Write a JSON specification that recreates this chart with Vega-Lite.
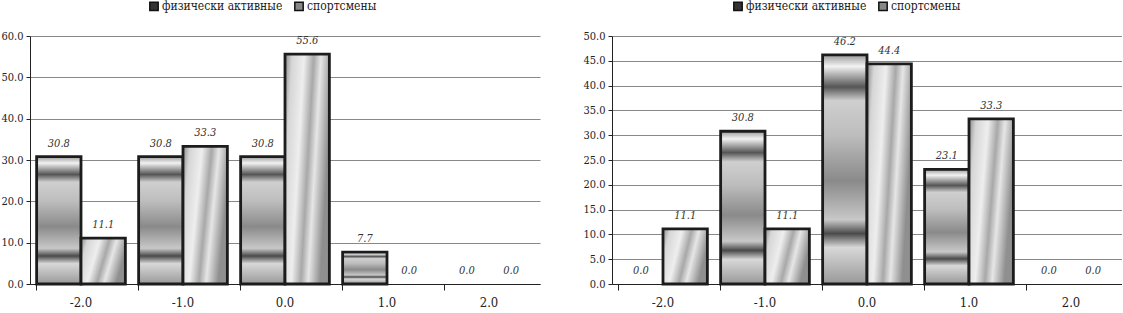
{
  "$schema": "https://vega.github.io/schema/vega-lite/v6.json",
  "padding": {"left": 0, "top": 0, "right": 0, "bottom": 0},
  "autosize": {"type": "pad"},
  "background": "white",
  "datasets": {
    "left": [
      {"cat": "-2.0", "series": "физически активные", "v": 30.8},
      {"cat": "-2.0", "series": "спортсмены", "v": 11.1},
      {"cat": "-1.0", "series": "физически активные", "v": 30.8},
      {"cat": "-1.0", "series": "спортсмены", "v": 33.3},
      {"cat": "0.0", "series": "физически активные", "v": 30.8},
      {"cat": "0.0", "series": "спортсмены", "v": 55.6},
      {"cat": "1.0", "series": "физически активные", "v": 7.7},
      {"cat": "1.0", "series": "спортсмены", "v": 0.0},
      {"cat": "2.0", "series": "физически активные", "v": 0.0},
      {"cat": "2.0", "series": "спортсмены", "v": 0.0}
    ],
    "right": [
      {"cat": "-2.0", "series": "физически активные", "v": 0.0},
      {"cat": "-2.0", "series": "спортсмены", "v": 11.1},
      {"cat": "-1.0", "series": "физически активные", "v": 30.8},
      {"cat": "-1.0", "series": "спортсмены", "v": 11.1},
      {"cat": "0.0", "series": "физически активные", "v": 46.2},
      {"cat": "0.0", "series": "спортсмены", "v": 44.4},
      {"cat": "1.0", "series": "физически активные", "v": 23.1},
      {"cat": "1.0", "series": "спортсмены", "v": 33.3},
      {"cat": "2.0", "series": "физически активные", "v": 0.0},
      {"cat": "2.0", "series": "спортсмены", "v": 0.0}
    ]
  },
  "config": {
    "font": "DejaVu Serif Condensed",
    "view": {"stroke": null},
    "axisX": {"labelFont": "DejaVu Serif Condensed"},
    "axisY": {"labelFont": "DejaVu Serif Condensed"},
    "axis": {"labelColor": "#222", "domainColor": "#222", "tickColor": "#222", "title": null},
    "legend": {"labelFont": "DejaVu Serif Condensed", "labelFontSize": 12, "labelColor": "#222"},
    "text": {"font": "DejaVu Serif Condensed"}
  },
  "spacing": 42,
  "resolve": {"scale": {"color": "independent", "y": "independent"}, "legend": {"color": "independent"}},
  "hconcat": [
    {
      "width": 510,
      "height": 248,
      "data": {"name": "left"},
      "encoding": {
        "x": {"field": "cat", "type": "nominal", "sort": ["-2.0", "-1.0", "0.0", "1.0", "2.0"],
          "scale": {"paddingInner": 0.13, "paddingOuter": 0.065},
          "axis": {"labelAngle": 0, "labelFontSize": 13, "tickSize": 6, "bandPosition": 0, "labelPadding": 6, "domainWidth": 1}},
        "xOffset": {"field": "series", "type": "nominal", "sort": ["физически активные", "спортсмены"]},
        "y": {"field": "v", "type": "quantitative", "scale": {"domain": [0, 60], "nice": false},
          "axis": {"values": [0, 10, 20, 30, 40, 50, 60], "format": ".1f", "labelFontSize": 11, "tickSize": 4, "gridColor": "#888", "gridWidth": 1, "labelPadding": 3}}
      },
      "layer": [
        {
          "transform": [{"filter": "datum.v > 0"}],
          "mark": {"type": "bar"},
          "encoding": {
            "color": {"field": "series", "type": "nominal", "sort": ["физически активные", "спортсмены"],
              "scale": {"range": ["#333", "#888"]},
              "legend": {"title": null, "orient": "none", "direction": "horizontal", "legendX": 118, "legendY": -36,
                "labelFont": "DejaVu Serif Condensed", "labelFontSize": 12,
                "symbolType": "square", "symbolSize": 70, "symbolStrokeColor": "#111", "symbolStrokeWidth": 1.5, "columnPadding": 8, "labelOffset": 2}}
          }
        },
        {
          "transform": [{"filter": "datum.v > 0"}],
          "mark": {"type": "bar", "stroke": "#1c1c1c", "strokeWidth": 2.8},
          "encoding": {
            "fill": {
              "condition": {"test": "datum.series === 'физически активные'",
                "value": {"gradient": "linear", "x1": 0, "y1": 0, "x2": 0, "y2": 1,
                  "stops": [
                    {"offset": 0, "color": "#9a9a9a"},
                    {"offset": 0.05, "color": "#f2f2f2"},
                    {"offset": 0.14, "color": "#555"},
                    {"offset": 0.2, "color": "#cfcfcf"},
                    {"offset": 0.35, "color": "#bdbdbd"},
                    {"offset": 0.55, "color": "#8a8a8a"},
                    {"offset": 0.72, "color": "#c8c8c8"},
                    {"offset": 0.78, "color": "#4a4a4a"},
                    {"offset": 0.84, "color": "#d8d8d8"},
                    {"offset": 1, "color": "#999"}
                  ]}},
              "value": {"gradient": "linear", "x1": 0, "y1": 0, "x2": 1, "y2": 0.3,
                "stops": [
                  {"offset": 0, "color": "#8a8a8a"},
                  {"offset": 0.15, "color": "#d6d6d6"},
                  {"offset": 0.4, "color": "#eeeeee"},
                  {"offset": 0.6, "color": "#a8a8a8"},
                  {"offset": 0.75, "color": "#e6e6e6"},
                  {"offset": 1, "color": "#8f8f8f"}
                ]}
            }
          }
        },
        {
          "mark": {"type": "text", "dy": -13, "fontStyle": "italic", "fontSize": 11, "color": "#333"},
          "encoding": {"text": {"field": "v", "type": "quantitative", "format": ".1f"}}
        }
      ]
    },
    {
      "width": 510,
      "height": 248,
      "data": {"name": "right"},
      "encoding": {
        "x": {"field": "cat", "type": "nominal", "sort": ["-2.0", "-1.0", "0.0", "1.0", "2.0"],
          "scale": {"paddingInner": 0.13, "paddingOuter": 0.065},
          "axis": {"labelAngle": 0, "labelFontSize": 13, "tickSize": 6, "bandPosition": 0, "labelPadding": 6, "domainWidth": 1}},
        "xOffset": {"field": "series", "type": "nominal", "sort": ["физически активные", "спортсмены"]},
        "y": {"field": "v", "type": "quantitative", "scale": {"domain": [0, 50], "nice": false},
          "axis": {"values": [0, 5, 10, 15, 20, 25, 30, 35, 40, 45, 50], "format": ".1f", "labelFontSize": 11, "tickSize": 4, "gridColor": "#888", "gridWidth": 1, "labelPadding": 3}}
      },
      "layer": [
        {
          "transform": [{"filter": "datum.v > 0"}],
          "mark": {"type": "bar"},
          "encoding": {
            "color": {"field": "series", "type": "nominal", "sort": ["физически активные", "спортсмены"],
              "scale": {"range": ["#333", "#888"]},
              "legend": {"title": null, "orient": "none", "direction": "horizontal", "legendX": 120, "legendY": -36,
                "labelFont": "DejaVu Serif Condensed", "labelFontSize": 12,
                "symbolType": "square", "symbolSize": 70, "symbolStrokeColor": "#111", "symbolStrokeWidth": 1.5, "columnPadding": 8, "labelOffset": 2}}
          }
        },
        {
          "transform": [{"filter": "datum.v > 0"}],
          "mark": {"type": "bar", "stroke": "#1c1c1c", "strokeWidth": 2.8},
          "encoding": {
            "fill": {
              "condition": {"test": "datum.series === 'физически активные'",
                "value": {"gradient": "linear", "x1": 0, "y1": 0, "x2": 0, "y2": 1,
                  "stops": [
                    {"offset": 0, "color": "#9a9a9a"},
                    {"offset": 0.05, "color": "#f2f2f2"},
                    {"offset": 0.14, "color": "#555"},
                    {"offset": 0.2, "color": "#cfcfcf"},
                    {"offset": 0.35, "color": "#bdbdbd"},
                    {"offset": 0.55, "color": "#8a8a8a"},
                    {"offset": 0.72, "color": "#c8c8c8"},
                    {"offset": 0.78, "color": "#4a4a4a"},
                    {"offset": 0.84, "color": "#d8d8d8"},
                    {"offset": 1, "color": "#999"}
                  ]}},
              "value": {"gradient": "linear", "x1": 0, "y1": 0, "x2": 1, "y2": 0.3,
                "stops": [
                  {"offset": 0, "color": "#8a8a8a"},
                  {"offset": 0.15, "color": "#d6d6d6"},
                  {"offset": 0.4, "color": "#eeeeee"},
                  {"offset": 0.6, "color": "#a8a8a8"},
                  {"offset": 0.75, "color": "#e6e6e6"},
                  {"offset": 1, "color": "#8f8f8f"}
                ]}
            }
          }
        },
        {
          "mark": {"type": "text", "dy": -13, "fontStyle": "italic", "fontSize": 11, "color": "#333"},
          "encoding": {"text": {"field": "v", "type": "quantitative", "format": ".1f"}}
        }
      ]
    }
  ]
}
